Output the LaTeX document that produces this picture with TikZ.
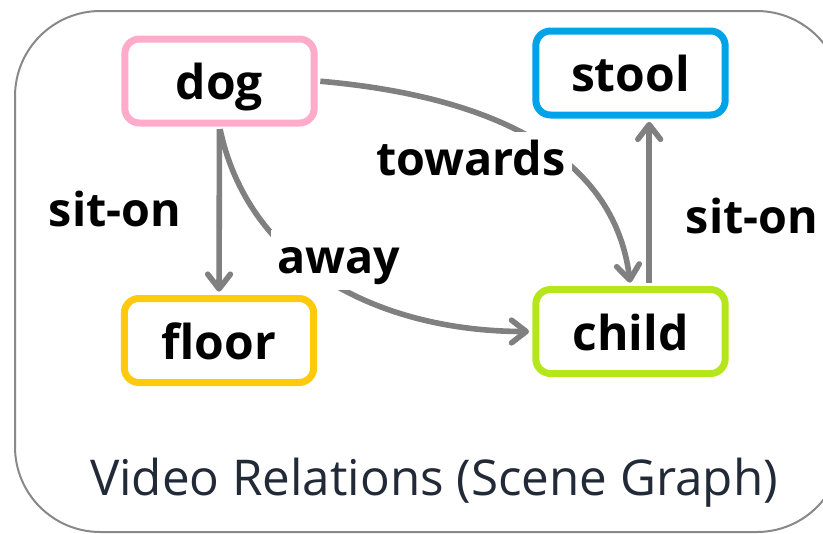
\documentclass[tikz,border=0pt]{standalone}
\usepackage{fontspec}
\setmainfont{Open Sans}
\usetikzlibrary{arrows.meta}

\definecolor{dogpink}{RGB}{255,171,201}
\definecolor{stoolblue}{RGB}{0,162,232}
\definecolor{flooryellow}{RGB}{255,201,14}
\definecolor{childgreen}{RGB}{181,230,29}
\definecolor{relgray}{RGB}{128,128,128}
\definecolor{framegray}{RGB}{136,136,136}
\definecolor{captiondark}{RGB}{34,42,56}

\tikzset{every picture/.style={line width=0.75pt}}
\tikzset{
obj/.style={draw, line width=5.25pt, rounded corners=11pt, minimum width=142pt, minimum height=63pt,
  inner sep=0pt, text height=28pt, text depth=0pt, font=\fontsize{36}{40}\selectfont\bfseries},
rel/.style={draw=relgray, line width=4.2pt, shorten <=2pt, shorten >=2.5pt,
  -{Straight Barb[length=11pt,width=17pt,round]}},
lbl/.style={fill=white, inner sep=5pt, anchor=base, text height=27pt, text depth=8pt,
  font=\fontsize{35}{40}\selectfont\bfseries}}

\begin{document}
\begin{tikzpicture}[x=0.75pt,y=0.75pt,yscale=-1,xscale=1]
\clip (0,0) rectangle (823,533);

%Shape: Rounded Rect [frame]
\draw [color=framegray, line width=1.5pt, rounded corners=64pt] (15,11) rectangle (842,532);

%Objects
\node [obj, draw=dogpink] (dog) at (219.5,81) {dog};
\node [obj, draw=stoolblue] (stool) at (630.5,73) {stool};
\node [obj, draw=flooryellow] (floor) at (219,340.5) {floor};
\node [obj, draw=childgreen] (child) at (630.5,331.5) {child};

%Relations
\draw [rel] (dog.south) -- (floor.north);
\draw [rel] (dog.south) to [out=78,in=180] (child.west);
\draw [rel] (dog.east) to [out=5,in=-97] (child.north);
\draw [rel] ([xshift=14pt]child.north) -- ([xshift=14pt]stool.south);

% Text Node
\node [lbl] (siton-a) at (115,226) {sit-on};
% Text Node
\node [lbl] (towards) at (471,175) {towards};
% Text Node
\node [lbl] (away) at (339,273) {away};
% Text Node
\node [lbl] (siton-b) at (752,233) {sit-on};

% Text Node
\node [anchor=base, text=captiondark, font=\fontsize{37}{44}\selectfont] (caption) at (434,495) {Video Relations (Scene Graph)};

\end{tikzpicture}
\end{document}
